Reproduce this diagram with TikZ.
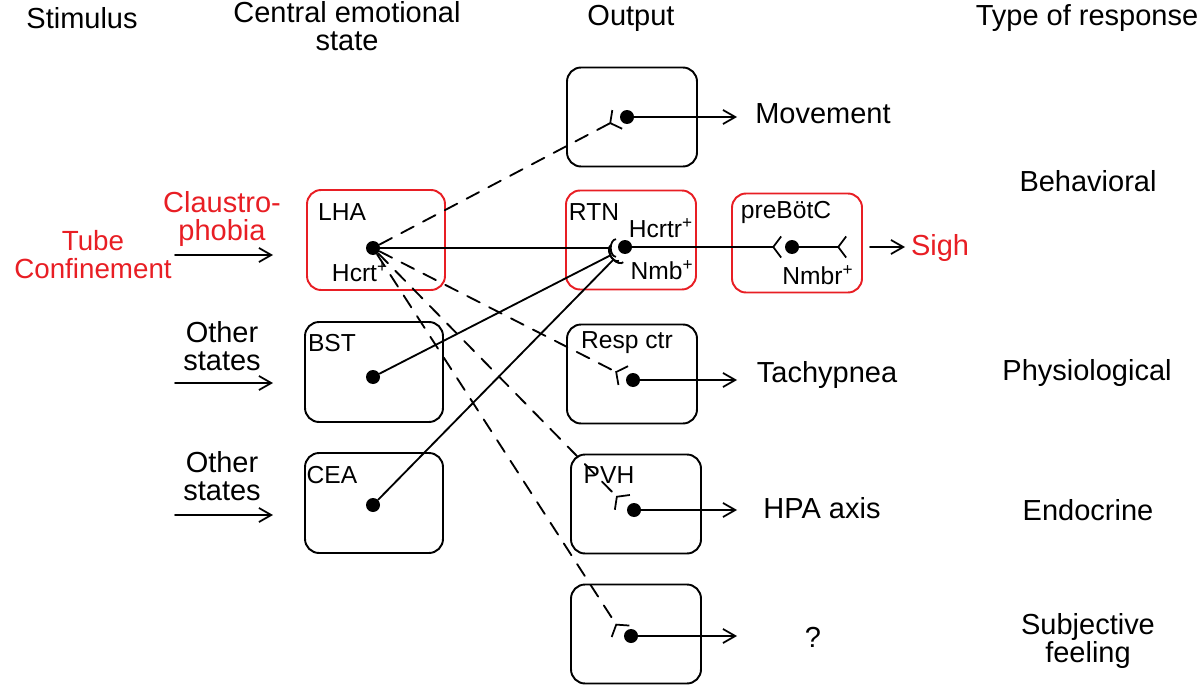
\documentclass[tikz,border=0pt]{standalone}
\usepackage{fontspec}
\setmainfont{Liberation Sans}
\usetikzlibrary{arrows.meta,positioning}

\begin{document}
\begin{tikzpicture}[x=0.02cm,y=-0.02cm,line cap=round]
  % Styles
  \tikzset{
    region/.style={draw,rounded corners=8pt,line width=1.1pt,minimum width=2.6cm,minimum height=1.98cm,inner sep=0pt},
    wide/.style={region,minimum width=2.76cm,minimum height=2cm},
    alarm/.style={draw=sighred},
    cell/.style={circle,fill=black,inner sep=0pt,minimum size=0.28cm},
    boxlabel/.style={font=\fontsize{14}{15}\selectfont,inner sep=0pt},
    head/.style={font=\fontsize{16.5}{16}\selectfont,align=center,inner sep=0pt},
    wire/.style={line width=1.05pt},
    modul/.style={wire,dash pattern=on 8pt off 6pt},
    outarrow/.style={wire,-{Straight Barb[length=7pt,width=8pt,line width=1pt]}},
    syn/.style={-{Straight Barb[reversed,length=4.5pt,width=12pt,line width=1pt]}},
    hook/.style={-{Arc Barb[reversed,length=3.5pt,width=11pt,line width=1pt]}}
  }

  % Colors
  \definecolor{sighred}{RGB}{232,30,36}

  \useasboundingbox (0,0) rectangle (1200,686);

  % Column heads
  \node[head] (hstim) at (82,18) {Stimulus};
  \node[head] (hstate) at (347,26) {Central emotional\\state};
  \node[head] (hout) at (631,18) {Output};
  \node[head] (htype) at (1087,18) {Type of response};

  % Stimuli
  \node[head,text=sighred,font=\fontsize{15.8}{16}\selectfont] (tube) at (93,255) {Tube\\Confinement};
  \node[head,text=sighred] (claus) at (222,219) {Claustro-\\phobia};
  \node[head] (other1) at (222,346) {Other\\states};
  \node[head] (other2) at (222,476) {Other\\states};

  % Regions
  \node[wide,alarm] (lha) at (376,240) {};
  \node[wide] (bst) at (374,372) {};
  \node[wide] (cea) at (374,503) {};
  \node[region] (mov) at (632,117) {};
  \node[region,alarm] (rtn) at (631,240) {};
  \node[region,alarm] (pre) at (797,243) {};
  \node[region] (resp) at (632,374) {};
  \node[region] (pvh) at (636,504) {};
  \node[region] (subj) at (636,634) {};

  % Region labels
  \node[boxlabel] at (342,212) {LHA};
  \node[boxlabel] at (360,272) {Hcrt\textsuperscript{+}};
  \node[boxlabel] at (332,343) {BST};
  \node[boxlabel] at (332,475) {CEA};
  \node[boxlabel] at (594,212) {RTN};
  \node[boxlabel] at (661,228) {Hcrtr\textsuperscript{+}};
  \node[boxlabel] at (662,270) {Nmb\textsuperscript{+}};
  \node[boxlabel] at (786,212) {preBötC};
  \node[boxlabel] at (818,275) {Nmbr\textsuperscript{+}};
  \node[boxlabel] at (627,343) {Resp ctr};
  \node[boxlabel] at (609,475) {PVH};

  % Cell bodies
  \node[cell] (dlha) at (373,248) {};
  \node[cell] (dbst) at (373,377) {};
  \node[cell] (dcea) at (373,505) {};
  \node[cell] (dmov) at (627,117) {};
  \node[cell] (drtn) at (625,247) {};
  \node[cell] (dpre) at (792,247) {};
  \node[cell] (dresp) at (633,380) {};
  \node[cell] (dpvh) at (634,510) {};
  \node[cell] (dsubj) at (631,636) {};

  % Outputs
  \node[head] (movement) at (823,114) {Movement};
  \node[head] (tachy) at (827,375) {Tachypnea};
  \node[head] (hpa) at (822,508) {HPA axis};
  \node[head] (unknown) at (813,637) {?};
  \node[head,text=sighred] (sigh) at (940,248) {Sigh};

  % Response types
  \node[head] (behav) at (1088,181) {Behavioral};
  \node[head] (physio) at (1087,373) {Physiological};
  \node[head] (endo) at (1088,510) {Endocrine};
  \node[head] (feel) at (1088,641) {Subjective\\feeling};

  % Synapse points
  \coordinate (rtnin) at (616,248);
  \coordinate (rtnin2) at (615,253);
  \coordinate (rtnin3) at (617,256);
  \coordinate (prein) at (782,247);
  \coordinate (preout) at (847,247);
  \coordinate (fmov) at (618,119);
  \coordinate (fresp) at (624,376);
  \coordinate (fpvh) at (623,503);
  \coordinate (fsubj) at (621,632);

  % Arrow ends
  \coordinate (s1a) at (175,255);
  \coordinate (s1) at (273,255);
  \coordinate (s2a) at (175,383);
  \coordinate (s2) at (273,383);
  \coordinate (s3a) at (175,515);
  \coordinate (s3) at (273,515);
  \coordinate (sigha) at (870,247);
  \coordinate (sighb) at (905,247);
  \coordinate (emov) at (737,117);
  \coordinate (eresp) at (737,380);
  \coordinate (epvh) at (737,510);
  \coordinate (esubj) at (737,636);

  % Stimulus arrows
  \draw[outarrow] (s1a) -- (s1);
  \draw[outarrow] (s2a) -- (s2);
  \draw[outarrow] (s3a) -- (s3);

  % Hypocretin pathway
  \draw[wire,hook] (dlha) -- (rtnin);
  \draw[wire,hook] (dbst) -- (rtnin2);
  \draw[wire,hook] (dcea) -- (rtnin3);
  \draw[wire,syn] (drtn) -- (prein);
  \draw[wire,syn] (dpre) -- (preout);
  \draw[outarrow] (sigha) -- (sighb);

  % Modulatory projections
  \draw[modul,syn] (dlha) -- (fmov);
  \draw[modul,syn] (dlha) -- (fresp);
  \draw[modul,syn] (dlha) -- (fpvh);
  \draw[modul,syn] (dlha) -- (fsubj);

  % Output arrows
  \draw[outarrow] (dmov) -- (emov);
  \draw[outarrow] (dresp) -- (eresp);
  \draw[outarrow] (dpvh) -- (epvh);
  \draw[outarrow] (dsubj) -- (esubj);
\end{tikzpicture}
\end{document}
